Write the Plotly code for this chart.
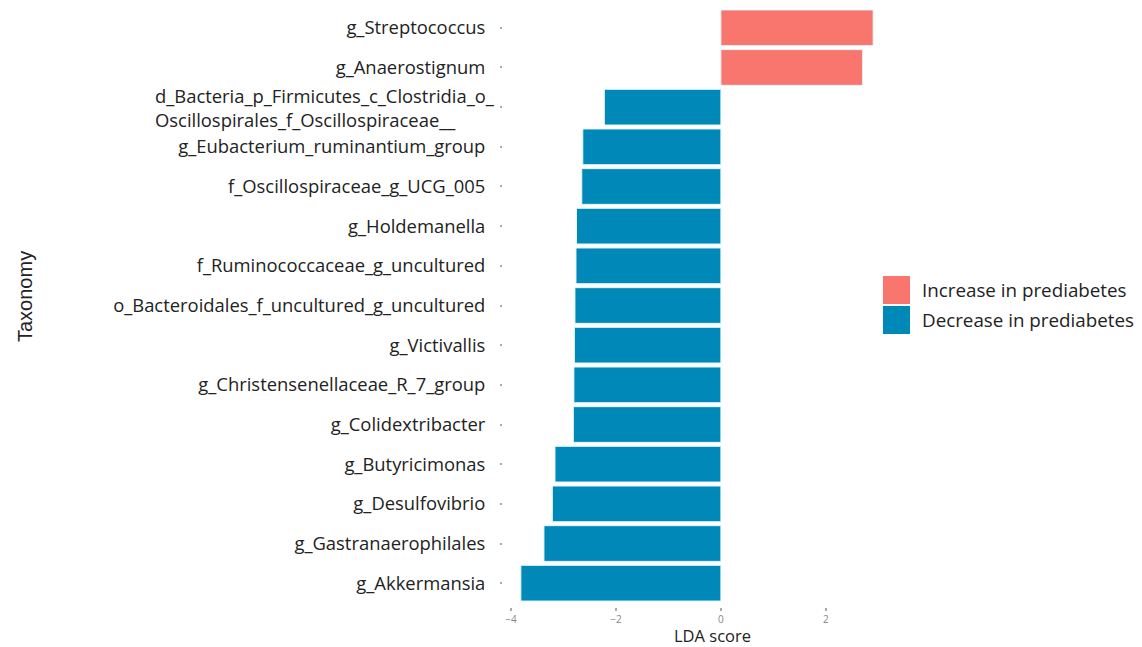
import plotly.graph_objects as go

# Taxa listed top to bottom, with their LDA scores
taxa = [
    "g_Streptococcus",
    "g_Anaerostignum",
    "d_Bacteria_p_Firmicutes_c_Clostridia_o_Oscillospirales_f_Oscillospiraceae__",
    "g_Eubacterium_ruminantium_group",
    "f_Oscillospiraceae_g_UCG_005",
    "g_Holdemanella",
    "f_Ruminococcaceae_g_uncultured",
    "o_Bacteroidales_f_uncultured_g_uncultured",
    "g_Victivallis",
    "g_Christensenellaceae_R_7_group",
    "g_Colidextribacter",
    "g_Butyricimonas",
    "g_Desulfovibrio",
    "g_Gastranaerophilales",
    "g_Akkermansia",
]
lda = [2.90, 2.70, -2.22, -2.63, -2.65, -2.75, -2.76, -2.78, -2.79, -2.80,
       -2.81, -3.16, -3.21, -3.37, -3.81]

x_ticks = [-4, -2, 0, 2]
group_names = ["Increase in prediabetes", "Decrease in prediabetes"]
group_colors = ["#F8766D", "#0089B8"]

long_label = "d_Bacteria_p_Firmicutes_c_Clostridia_o_<br>Oscillospirales_f_Oscillospiraceae__"
tick_text = ["" if t == taxa[2] else t for t in taxa]

LABEL_FONT = "Open Sans"
TEXT_COLOR = "#222222"

W, H = 1142, 647
L, R, T, B = 503, 251, 4, 40
pw, ph = W - L - R, H - T - B


def px_x(px):
    return (px - L) / pw


def px_y(py):
    return (H - B - py) / ph


fig = go.Figure()
for gi, (name, color) in enumerate(zip(group_names, group_colors)):
    ys = [t for t, v in zip(taxa, lda) if (v > 0) == (gi == 0)]
    xs = [v for v in lda if (v > 0) == (gi == 0)]
    fig.add_trace(go.Bar(
        x=xs, y=ys, orientation="h", name=name,
        marker=dict(color=color, line=dict(color="#E6F6FA", width=1)),
        showlegend=False,
    ))

# Two-line taxon label, left-aligned
fig.add_annotation(
    x=0, xref="paper", y=taxa[2], yref="y", xanchor="right", xshift=-6,
    text=long_label, showarrow=False, align="left",
    font=dict(family=LABEL_FONT, size=18.4, color=TEXT_COLOR),
)

# Axis titles
fig.add_annotation(
    x=px_x(12), xref="paper", y=px_y(297), yref="paper",
    text="Taxonomy", textangle=-90, showarrow=False,
    font=dict(family="Liberation Sans, Arial", size=20, color=TEXT_COLOR),
)
fig.add_annotation(
    x=px_x(712), xref="paper", y=px_y(635), yref="paper",
    text="LDA score", showarrow=False, yanchor="middle",
    font=dict(family=LABEL_FONT, size=16.5, color=TEXT_COLOR),
)

# Legend keys and labels
for i, (name, color) in enumerate(zip(group_names, group_colors)):
    top = 276 + i * 30
    fig.add_shape(
        type="rect", xref="paper", yref="paper",
        x0=px_x(883), x1=px_x(910), y0=px_y(top + 28), y1=px_y(top),
        fillcolor=color, line=dict(width=0),
    )
    fig.add_annotation(
        x=px_x(920), xref="paper", y=px_y(top + 14), yref="paper",
        xanchor="left", yanchor="middle", text=name, showarrow=False,
        font=dict(family=LABEL_FONT, size=18.8, color=TEXT_COLOR),
    )

fig.update_layout(
    width=W, height=H,
    margin=dict(l=L, r=R, t=T, b=B),
    paper_bgcolor="white", plot_bgcolor="white",
    barmode="overlay", bargap=0.1,
    xaxis=dict(
        range=[-4.15, 3.24], tickvals=x_ticks, ticks="outside", ticklen=3,
        tickcolor="#AAAAAA", tickwidth=2, showgrid=False, zeroline=False,
        showline=False,
        tickfont=dict(family=LABEL_FONT, size=10, color="#888888"),
    ),
    yaxis=dict(
        categoryorder="array", categoryarray=taxa,
        tickvals=taxa, ticktext=tick_text,
        range=[len(taxa) - 0.4, -0.6], ticks="outside", ticklen=2,
        tickcolor="#AAAAAA", tickwidth=2, showgrid=False, zeroline=False,
        showline=False, ticklabelstandoff=11,
        tickfont=dict(family=LABEL_FONT, size=18.4, color=TEXT_COLOR),
    ),
)

fig.write_html("out.html")
